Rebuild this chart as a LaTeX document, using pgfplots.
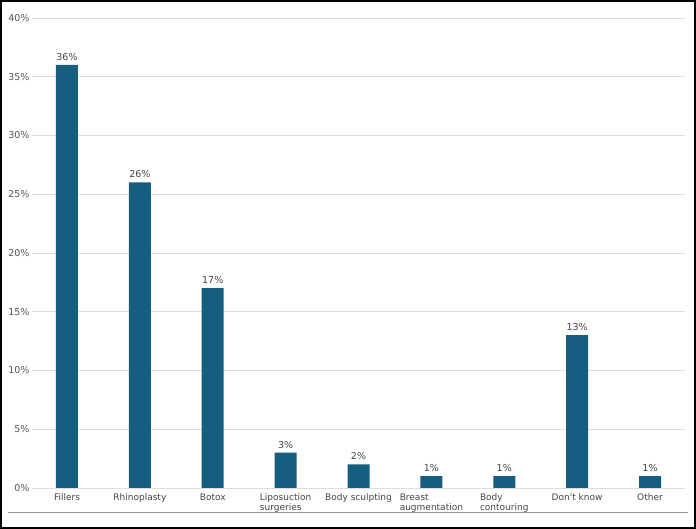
\documentclass[border=0pt]{standalone}
\usepackage{pgfplots}
\pgfplotsset{compat=1.18}
\usepackage{fontspec}
\setmainfont{DejaVu Sans}
\definecolor{barc}{RGB}{22,94,128}
\definecolor{gridc}{RGB}{222,222,222}
\definecolor{tickc}{RGB}{85,85,85}
\definecolor{labc}{RGB}{68,68,68}
\begin{document}
\begin{tikzpicture}[x=1pt,y=1pt]
\useasboundingbox (0,0) rectangle (696,529);
\draw[line width=1.6pt,black] (0.8,0.8) rectangle (695.2,528.2);
\draw[line width=0.8pt,gray!80] (8,17) -- (688,17);
\begin{axis}[
  at={(32pt,41pt)}, anchor=south west,
  scale only axis, width=653pt, height=470pt,
  xmin=-0.48, xmax=8.48, ymin=0, ymax=40,
  axis line style={draw=none},
  ytick={0,5,...,40},
  ymajorgrids, grid style={gridc, line width=0.8pt},
  yticklabel={\pgfmathprintnumber{\tick}\%},
  yticklabel style={font=\fontsize{9.5}{10.5}\selectfont, text=tickc, xshift=1pt},
  xtick=data,
  xticklabels={Fillers, Rhinoplasty, Botox, {Liposuction\\surgeries}, Body sculpting, {Breast\\augmentation}, {Body\\contouring}, Don\textquotesingle t know, Other},
  xticklabel style={font=\fontsize{9}{10.3}\selectfont, text=labc, align=left, anchor=north, yshift=-2pt},
  major tick length=0pt,
  /pgf/number format/assume math mode=true,
  nodes near coords={\pgfmathprintnumber{\pgfplotspointmeta}\%},
  nodes near coords style={font=\fontsize{9.5}{10.5}\selectfont, text=labc, yshift=1pt},
]
\addplot[ybar, bar width=22pt, fill=barc, draw=none] coordinates {
(0,36) (1,26) (2,17) (3,3) (4,2) (5,1) (6,1) (7,13) (8,1)};
\end{axis}
\end{tikzpicture}
\end{document}
